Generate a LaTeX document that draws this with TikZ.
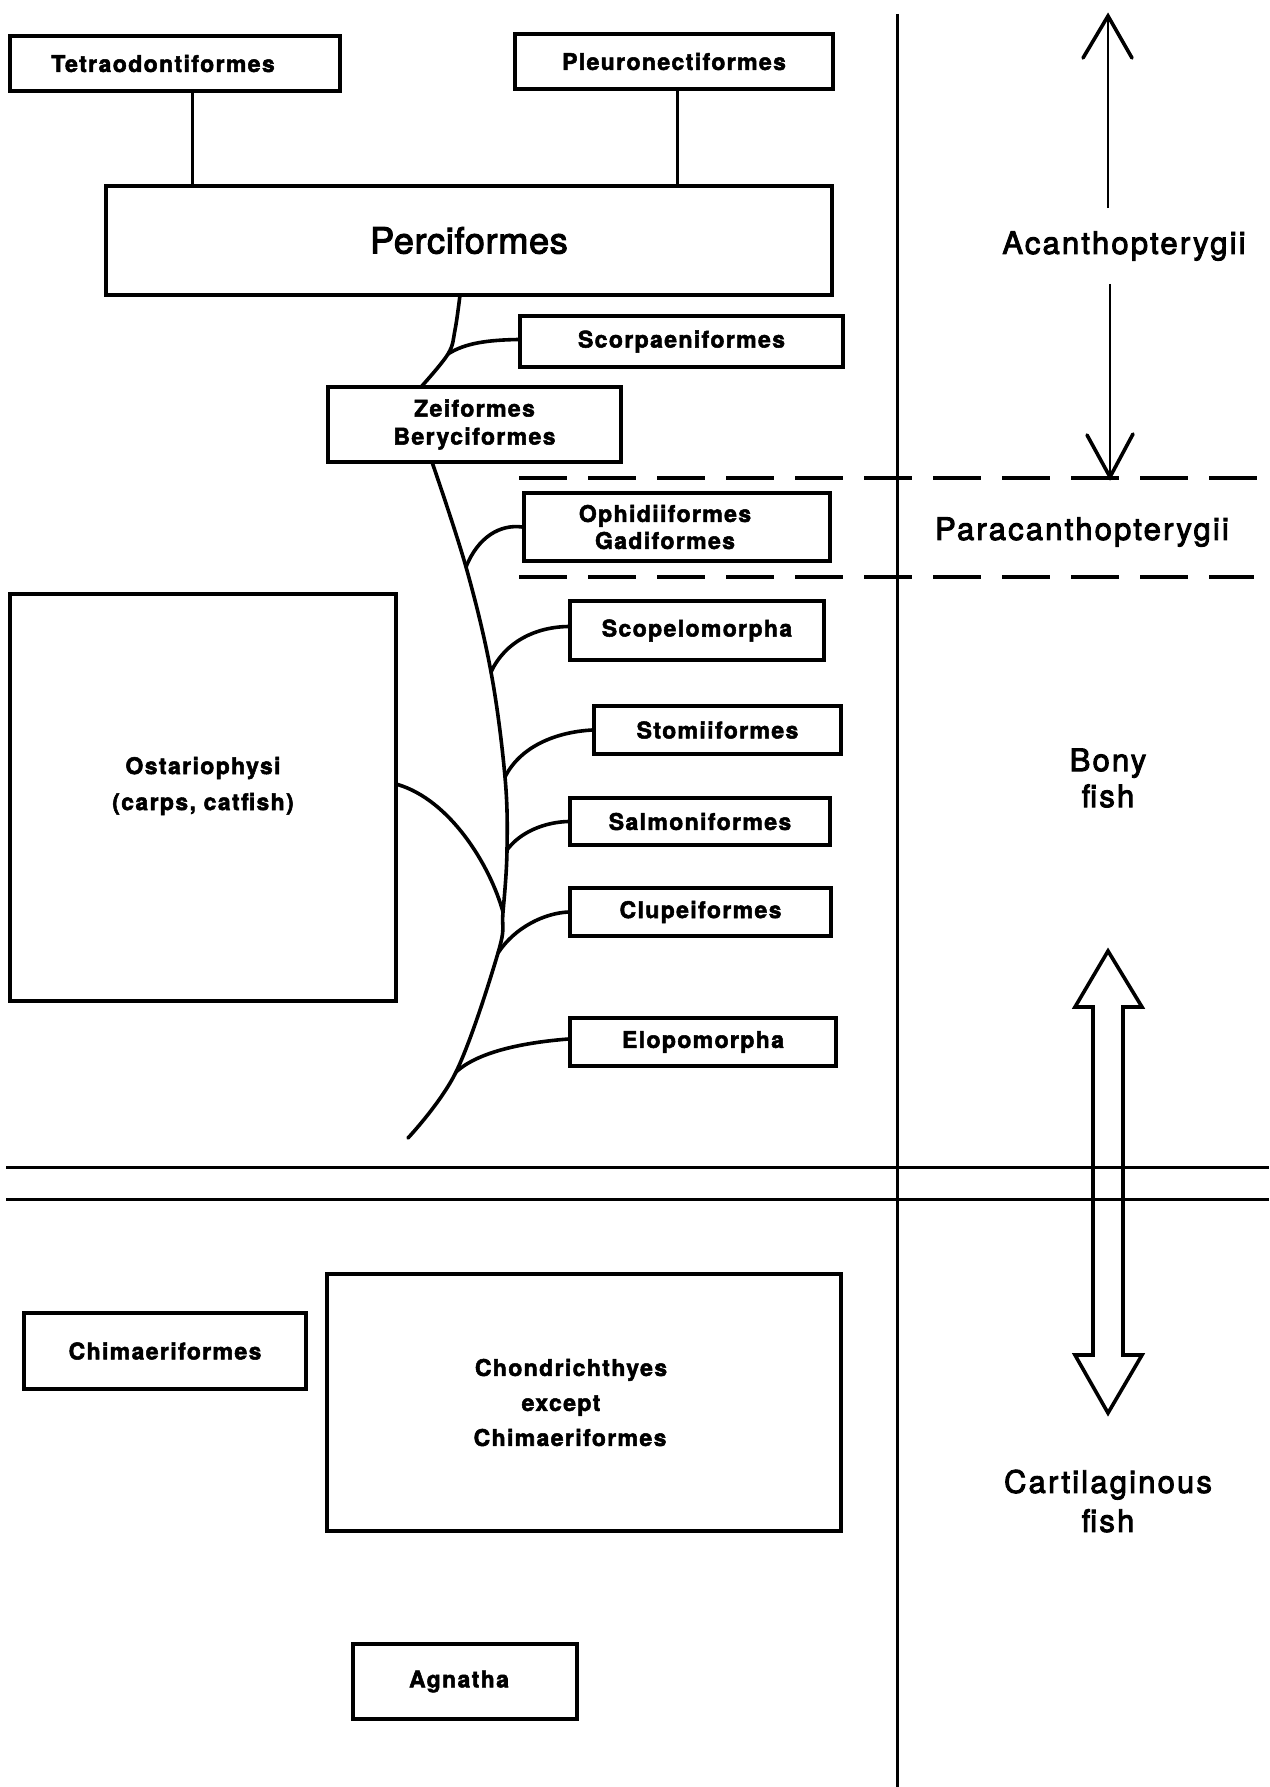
\documentclass[tikz,border=0pt]{standalone}
\usepackage{fontspec}
\setmainfont{TeX Gyre Heros}
\newfontfamily\boxfont[LetterSpace=6,FakeBold=2.2]{TeX Gyre Heros}
\newfontfamily\bigfont[LetterSpace=7,FakeBold=3]{TeX Gyre Heros}
\newfontfamily\percfont[LetterSpace=2,FakeBold=3]{TeX Gyre Heros}
\begin{document}
\begin{tikzpicture}[x=1pt,y=-1pt,
  box/.style={draw, line width=3.2pt, inner sep=0pt, align=center, font=\fontsize{23}{28}\boxfont\bfseries},
  big/.style={align=center, font=\fontsize{31}{37}\bigfont},
  ln/.style={line width=3pt},
  trunk/.style={line width=3.6pt, line cap=round, line join=round},
  dashline/.style={line width=3.6pt, dash pattern=on 48pt off 21pt},
  shaft/.style={line width=2.6pt},
  barb/.style={line width=3.6pt, line cap=round, line join=miter},
]
\useasboundingbox (0,0) rectangle (1269,1787);
\fill[white] (0,0) rectangle (1269,1787);

% frame lines
\draw[ln] (897,14) -- (897,1787);
\draw[ln] (6,1167) -- (1269,1167);
\draw[ln] (6,1199) -- (1269,1199);
\draw[dashline] (519,478) -- (1260,478);
\draw[dashline] (519,577) -- (1254,577);

% boxes
\node[box, minimum width=330pt, minimum height=55pt] (tetra) at (175,63.5) {Tetraodontiformes\rule{24pt}{0pt}};
\node[box, minimum width=318pt, minimum height=55pt] (pleuro) at (674,61.5) {Pleuronectiformes};
\node[box, minimum width=726pt, minimum height=109pt, font=\fontsize{36}{40}\percfont] (perci) at (469,240.5) {Perciformes};
\node[box, minimum width=323pt, minimum height=51pt] (scorp) at (681.5,341.5) {Scorpaeniformes};
\node[box, minimum width=293pt, minimum height=75pt] (zei) at (474.5,424.5) {Zeiformes\\Beryciformes};
\node[box, minimum width=306pt, minimum height=68pt, font=\fontsize{23}{27}\boxfont\bfseries] (ophid) at (677,527) {Ophidiiformes\rule{24pt}{0pt}\\Gadiformes\rule{24pt}{0pt}};
\node[box, minimum width=254pt, minimum height=59pt] (scopelo) at (697,630.5) {Scopelomorpha};
\node[box, minimum width=247pt, minimum height=48pt] (stomi) at (717.5,730) {Stomiiformes};
\node[box, minimum width=260pt, minimum height=47pt] (salmo) at (700,821.5) {Salmoniformes};
\node[box, minimum width=261pt, minimum height=48pt] (clupei) at (700.5,912) {Clupeiformes};
\node[box, minimum width=266pt, minimum height=48pt] (elopo) at (703,1042) {Elopomorpha};
\node[box, minimum width=386pt, minimum height=407pt, font=\fontsize{23}{36}\boxfont\bfseries] (ostario) at (203,797.5) {Ostariophysi\\(carps, catfish)\\[-8pt]\mbox{}};
\node[box, minimum width=282pt, minimum height=76pt] (chimaer) at (165,1351) {Chimaeriformes};
\node[box, minimum width=514pt, minimum height=257pt, font=\fontsize{23}{35}\boxfont\bfseries] (chondr) at (584,1402.5) {Chondrichthyes\rule{26pt}{0pt}\\except\rule{46pt}{0pt}\\Chimaeriformes\rule{28pt}{0pt}};
\node[box, minimum width=224pt, minimum height=75pt] (agnatha) at (465,1681.5) {Agnatha\rule{12pt}{0pt}};

% top connectors
\draw[ln] ([xshift=17pt]tetra.south) -- ([xshift=17pt]tetra.south |- perci.north);
\draw[ln] ([xshift=3pt]pleuro.south) -- ([xshift=3pt]pleuro.south |- perci.north);

% tree
\coordinate (pb) at (460,295);
\coordinate (jscorp) at (448,354);
\coordinate (zt) at (421,387);
\coordinate (zb) at (432,462);
\coordinate (joph) at (466,567);
\coordinate (jscop) at (491,672);
\coordinate (jstom) at (505,777);
\coordinate (jsalm) at (507,850);
\coordinate (jost) at (503,912);
\coordinate (jclup) at (498,953);
\coordinate (jelop) at (456,1072);
\coordinate (tend) at (408,1138);

\draw[trunk] plot[smooth, tension=0.6] coordinates {(pb) (455,330) (jscorp) (zt)};
\draw[trunk] plot[smooth, tension=0.6] coordinates {(zb) (joph) (jscop) (jstom) (jsalm) (jost) (jclup) (jelop) (tend)};

\draw[trunk] (jscorp) .. controls (465,343) and (488,340) .. ([yshift=2pt]scorp.west);
\draw[trunk] (joph) .. controls (478,537) and (500,524) .. (ophid.west);
\draw[trunk] (jscop) .. controls (505,642) and (535,627) .. ([yshift=4pt]scopelo.west);
\draw[trunk] (jstom) .. controls (520,747) and (555,732) .. (stomi.west);
\draw[trunk] (jsalm) .. controls (520,832) and (545,822) .. (salmo.west);
\draw[trunk] ([yshift=13pt]ostario.east) .. controls (450,800) and (490,865) .. (jost);
\draw[trunk] (jclup) .. controls (515,927) and (545,913) .. (clupei.west);
\draw[trunk] (jelop) .. controls (480,1050) and (530,1042) .. ([yshift=3pt]elopo.west);

% right-hand labels
\node[big, inner ysep=23pt] (acan) at (1124,246) {Acanthopterygii};
\coordinate (acantop) at (1108,16);
\coordinate (acanbot) at (1110,477);
\draw[shaft] (acan.north -| acantop) -- (acantop);
\draw[barb] (acantop) ++(-25,42) -- (acantop) -- ++(24,42);
\draw[shaft] (acan.south -| acanbot) -- (acanbot);
\draw[barb] (acanbot) ++(-23,-42) -- (acanbot) -- ++(23,-43);

\node[big] (parac) at (1082,532) {Paracanthopterygii};
\node[big, font=\fontsize{31}{36}\bigfont] (bony) at (1108,778) {Bony\\fish};
\node[big, font=\fontsize{31}{39}\bigfont] (cart) at (1108,1501) {Cartilaginous\\fish};

% hollow double arrow
\draw[line width=3.6pt] (1108,951) -- (1142,1007) -- (1123,1007) -- (1123,1355) -- (1142,1355)
  -- (1108,1413) -- (1075,1355) -- (1093,1355) -- (1093,1007) -- (1075,1007) -- cycle;
\end{tikzpicture}
\end{document}
